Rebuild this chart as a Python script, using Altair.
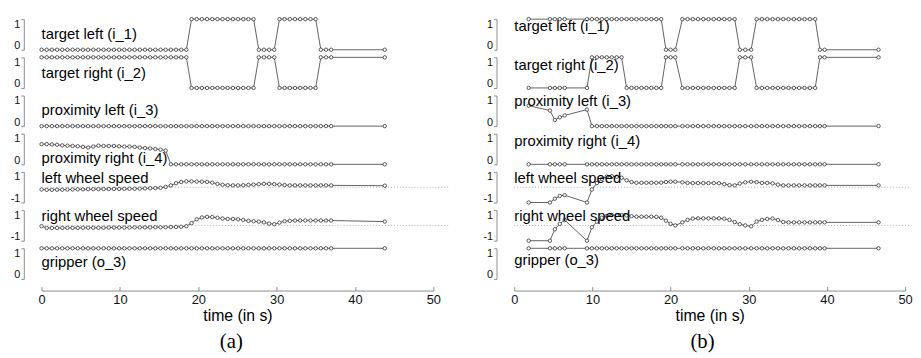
import altair as alt
import pandas as pd

LABELS = ["target left (i_1)", "target right (i_2)", "proximity left (i_3)",
          "proximity right (i_4)", "left wheel speed", "right wheel speed", "gripper (o_3)"]
WHEEL = [False, False, False, False, True, True, False]

# ---------------- panel (a) ----------------
TIME_A = [0.0, 0.66, 1.32, 1.98, 2.64, 3.3, 3.96, 4.62, 5.28, 5.94,
          6.6, 7.26, 7.92, 8.58, 9.24, 9.9, 10.56, 11.22, 11.88, 12.54,
          13.2, 13.86, 14.52, 15.18, 15.84, 16.5, 17.16, 17.82, 18.48, 19.14,
          19.8, 20.46, 21.12, 21.78, 22.44, 23.1, 23.76, 24.42, 25.08, 25.74,
          26.4, 27.06, 27.72, 28.38, 29.04, 29.7, 30.36, 31.02, 31.68, 32.34,
          33.0, 33.66, 34.32, 34.98, 35.64, 36.3, 36.96, 43.8]
TL_A = [0, 0, 0, 0, 0, 0, 0, 0, 0, 0,
        0, 0, 0, 0, 0, 0, 0, 0, 0, 0,
        0, 0, 0, 0, 0, 0, 0, 0, 0, 1,
        1, 1, 1, 1, 1, 1, 1, 1, 1, 1,
        1, 1, 0, 0, 0, 0, 1, 1, 1, 1,
        1, 1, 1, 1, 0, 0, 0, 0]
TR_A = [1, 1, 1, 1, 1, 1, 1, 1, 1, 1,
        1, 1, 1, 1, 1, 1, 1, 1, 1, 1,
        1, 1, 1, 1, 1, 1, 1, 1, 1, 0,
        0, 0, 0, 0, 0, 0, 0, 0, 0, 0,
        0, 0, 1, 1, 1, 1, 0, 0, 0, 0,
        0, 0, 0, 0, 1, 1, 1, 1]
PL_A = [0, 0, 0, 0, 0, 0, 0, 0, 0, 0,
        0, 0, 0, 0, 0, 0, 0, 0, 0, 0,
        0, 0, 0, 0, 0, 0, 0, 0, 0, 0,
        0, 0, 0, 0, 0, 0, 0, 0, 0, 0,
        0, 0, 0, 0, 0, 0, 0, 0, 0, 0,
        0, 0, 0, 0, 0, 0, 0, 0]
PR_A = [0.66, 0.66, 0.65, 0.64, 0.62, 0.61, 0.6, 0.59, 0.57, 0.55,
        0.58, 0.61, 0.6, 0.6, 0.6, 0.59, 0.58, 0.58, 0.57, 0.55,
        0.53, 0.52, 0.5, 0.48, 0.45, 0, 0, 0, 0, 0,
        0, 0, 0, 0, 0, 0, 0, 0, 0, 0,
        0, 0, 0, 0, 0, 0, 0, 0, 0, 0,
        0, 0, 0, 0, 0, 0, 0, 0]
LW_A = [-0.15, -0.17, -0.17, -0.16, -0.16, -0.15, -0.15, -0.14, -0.14, -0.13,
        -0.13, -0.12, -0.12, -0.12, -0.11, -0.11, -0.1, -0.1, -0.1, -0.09,
        -0.08, -0.07, -0.06, -0.04, 0.02, 0.12, 0.26, 0.34, 0.38, 0.38,
        0.37, 0.36, 0.35, 0.3, 0.22, 0.16, 0.13, 0.12, 0.12, 0.13,
        0.15, 0.17, 0.2, 0.22, 0.22, 0.2, 0.17, 0.14, 0.12, 0.12,
        0.12, 0.12, 0.12, 0.12, 0.12, 0.12, 0.12, 0.1]
RW_A = [-0.05, -0.17, -0.17, -0.17, -0.16, -0.16, -0.16, -0.16, -0.15, -0.15,
        -0.15, -0.15, -0.15, -0.14, -0.14, -0.14, -0.14, -0.14, -0.13, -0.13,
        -0.13, -0.13, -0.12, -0.12, -0.12, -0.11, -0.1, -0.09, -0.05, 0.15,
        0.4, 0.52, 0.56, 0.55, 0.5, 0.45, 0.42, 0.42, 0.4, 0.36,
        0.3, 0.27, 0.25, 0.2, 0.12, 0.08, 0.18, 0.27, 0.3, 0.32,
        0.32, 0.32, 0.32, 0.32, 0.32, 0.32, 0.32, 0.25]
GR_A = [1, 1, 1, 1, 1, 1, 1, 1, 1, 1,
        1, 1, 1, 1, 1, 1, 1, 1, 1, 1,
        1, 1, 1, 1, 1, 1, 1, 1, 1, 1,
        1, 1, 1, 1, 1, 1, 1, 1, 1, 1,
        1, 1, 1, 1, 1, 1, 1, 1, 1, 1,
        1, 1, 1, 1, 1, 1, 1, 1]

# ---------------- panel (b) ----------------
TIME_B = [1.84, 4.56, 5.19, 5.82, 6.45,
          9.3, 9.93, 10.57, 11.2, 11.83, 12.47, 13.1, 13.73, 14.37, 15.0,
          15.63, 16.27, 16.9, 17.53, 18.17, 18.8,
          19.4, 20.0, 20.6,
          21.5, 22.17, 22.84, 23.51, 24.18, 24.85, 25.52, 26.19, 26.86, 27.53, 28.2,
          28.85, 29.55, 30.3,
          31.0, 31.68, 32.36, 33.05, 33.73, 34.41, 35.09, 35.77, 36.45, 37.14, 37.82, 38.5,
          39.1, 39.7,
          46.6]
TL_B = [1, 1, 1, 1, 1,
        1, 1, 1, 1, 1, 1, 1, 1, 1, 1, 1, 1, 1, 1, 1, 1,
        0, 0, 0,
        1, 1, 1, 1, 1, 1, 1, 1, 1, 1, 1,
        0, 0, 0,
        1, 1, 1, 1, 1, 1, 1, 1, 1, 1, 1, 1,
        0, 0,
        0]
TR_B = [0, 0, 0, 0, 0,
        0, 1, 1, 1, 1, 1, 1, 1, 0, 0, 0, 0, 0, 0, 0, 0,
        1, 1, 1,
        0, 0, 0, 0, 0, 0, 0, 0, 0, 0, 0,
        1, 1, 1,
        0, 0, 0, 0, 0, 0, 0, 0, 0, 0, 0, 0,
        1, 1,
        1]
PL_B = [0.67, 0.51, 0.2, 0.29, 0.35,
        0.54, 0, 0, 0, 0, 0, 0, 0, 0, 0, 0, 0, 0, 0, 0, 0,
        0, 0, 0,
        0, 0, 0, 0, 0, 0, 0, 0, 0, 0, 0,
        0, 0, 0,
        0, 0, 0, 0, 0, 0, 0, 0, 0, 0, 0, 0,
        0, 0,
        0]
PR_B = [0, 0, 0, 0, 0,
        0, 0, 0, 0, 0, 0, 0, 0, 0, 0, 0, 0, 0, 0, 0, 0,
        0, 0, 0,
        0, 0, 0, 0, 0, 0, 0, 0, 0, 0, 0,
        0, 0, 0,
        0, 0, 0, 0, 0, 0, 0, 0, 0, 0, 0, 0,
        0, 0,
        0]
LW_B = [-1, -1, -0.75, -0.57, -0.52,
        -1, -0.15, 0.27, 0.54, 0.69, 0.72, 0.69, 0.62, 0.45, 0.34, 0.29, 0.29, 0.29, 0.29, 0.29, 0.3,
        0.34, 0.36, 0.36,
        0.32, 0.28, 0.27, 0.27, 0.27, 0.27, 0.27, 0.26, 0.2, 0.14, 0.12,
        0.24, 0.32, 0.36,
        0.33, 0.28, 0.28, 0.25, 0.17, 0.12, 0.12, 0.12, 0.12, 0.12, 0.12, 0.12,
        0.12, 0.12,
        0.12]
RW_B = [-1, -1, -0.25, 0.1, 0.35,
        -1, -0.12, 0.25, 0.5, 0.62, 0.68, 0.68, 0.68, 0.65, 0.6, 0.57, 0.57, 0.57, 0.57, 0.56, 0.5,
        0.31, 0.1, 0.0,
        0.2, 0.36, 0.45, 0.46, 0.46, 0.46, 0.46, 0.46, 0.44, 0.36, 0.22,
        0.08, 0.0, -0.06,
        0.25, 0.36, 0.42, 0.45, 0.35, 0.22, 0.2, 0.2, 0.2, 0.2, 0.2, 0.2,
        0.2, 0.2,
        0.2]
GR_B = [1, 1, 1, 1, 1,
        1, 1, 1, 1, 1, 1, 1, 1, 1, 1, 1, 1, 1, 1, 1, 1,
        1, 1, 1,
        1, 1, 1, 1, 1, 1, 1, 1, 1, 1, 1,
        1, 1, 1,
        1, 1, 1, 1, 1, 1, 1, 1, 1, 1, 1, 1,
        1, 1,
        1]

X_TICKS = [0, 10, 20, 30, 40, 50]

# label placement (value units within each row)
LABEL_Y_A = [0.52, 0.5, 0.54, 0.2, 0.6, 0.64, 0.55]
LABEL_Y_B = [0.76, 0.74, 0.83, 0.75, 0.6, 0.58, 0.63]

AXIS_GRAY = "#8c8c8c"
LINE_COL = "#3a3a3a"
FONT = "Liberation Sans"
ROW_H = 31
LABEL_EXPR = "datum.value < 0 ? '-1' : (datum.value > 0 ? '1' : '0')"


def row_chart(times, values, label, label_y, wheel, width, yoffset, rule_ext):
    df = pd.DataFrame({"t": times, "v": values})
    dom = [-1, 1] if wheel else [0, 1]
    x = alt.X("t:Q", scale=alt.Scale(domain=[0, 50], nice=False, zero=False), axis=None)
    y = alt.Y("v:Q", title=None,
              scale=alt.Scale(domain=dom, nice=False, zero=False),
              axis=alt.Axis(values=dom, labelExpr=LABEL_EXPR,
                            offset=yoffset, tickSize=3, labelFlush=True, labelFlushOffset=1,
                            tickColor=AXIS_GRAY, domainColor=AXIS_GRAY, grid=False,
                            labelFontSize=11, labelPadding=1, labelColor="#111",
                            labelFont=FONT))
    layers = []
    if wheel:
        layers.append(
            alt.Chart(pd.DataFrame({"t": [0], "v": [0]}))
            .mark_rule(color="#999999", strokeDash=[1, 2], strokeWidth=0.8)
            .encode(y=y, x=alt.value(0), x2=alt.value(width + rule_ext))
        )
    base = alt.Chart(df)
    layers.append(base.mark_line(color=LINE_COL, strokeWidth=0.8).encode(x=x, y=y))
    layers.append(
        base.mark_point(shape="circle", size=12, filled=True, fill="white",
                        stroke="#333333", strokeWidth=0.8, opacity=1)
        .encode(x=x, y=y)
    )
    layers.append(
        alt.Chart(pd.DataFrame({"t": [0], "v": [label_y], "s": [label]}))
        .mark_text(align="left", baseline="middle", fontSize=15, font=FONT, color="#000")
        .encode(x=x, y=y, text="s:N")
    )
    return alt.layer(*layers).properties(width=width, height=ROW_H)


def axis_row(width):
    return (
        alt.Chart(pd.DataFrame({"t": [0, 50]}))
        .mark_point(opacity=0)
        .encode(
            x=alt.X("t:Q", scale=alt.Scale(domain=[0, 50], nice=False, zero=False),
                    axis=alt.Axis(values=X_TICKS, format="d", grid=True, gridColor=AXIS_GRAY,
                                  ticks=False, domainColor=AXIS_GRAY, labelFontSize=13,
                                  labelFlush=False,
                                  labelPadding=3, labelColor="#111", labelFont=FONT,
                                  title="time (in s)", titleFontSize=16, titlePadding=1,
                                  titleFont=FONT, titleFontWeight="normal", titleColor="#000"))
        )
        .properties(width=width, height=4)
    )


def panel(time, series, label_ys, width, yoffset, rule_ext, tag, dx):
    rows = [row_chart(time, s, lab, ly, w, width, yoffset, rule_ext)
            for s, lab, ly, w in zip(series, LABELS, label_ys, WHEEL)]
    stack = alt.vconcat(*rows, spacing=7.7, bounds="flush")
    return alt.vconcat(stack, axis_row(width), spacing=5).properties(
        title=alt.TitleParams(tag, orient="bottom", anchor="middle", font="Liberation Serif",
                              fontSize=21, fontWeight="normal", color="#000", offset=8, dx=dx)
    )


panel_a = panel(TIME_A, [TL_A, TR_A, PL_A, PR_A, LW_A, RW_A, GR_A], LABEL_Y_A,
                397, 18, 15, "(a)", 2)
panel_b = panel(TIME_B, [TL_B, TR_B, PL_B, PR_B, LW_B, RW_B, GR_B], LABEL_Y_B,
                396, 18, 5, "(b)", 5)

chart = (
    alt.hconcat(panel_a, panel_b, spacing=34)
    .properties(padding={"left": 2, "top": 5, "right": 0, "bottom": 0})
    .configure_view(stroke=None)
)

chart.save("out.html", embed_options={"renderer": "svg", "actions": False})
